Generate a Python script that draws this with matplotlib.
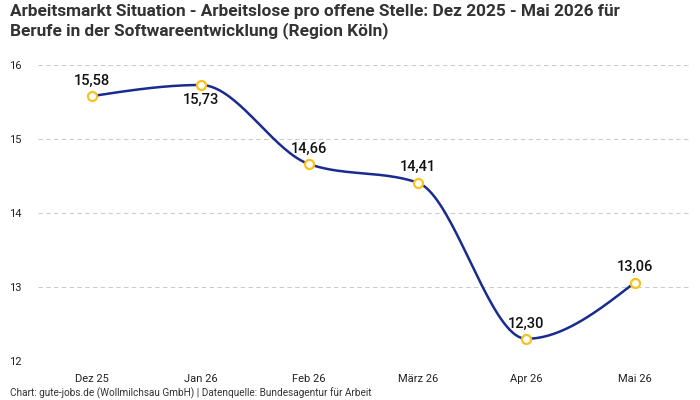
import numpy as np
import matplotlib
matplotlib.use("Agg")
import matplotlib.pyplot as plt

# Daten
monate = ["Dez 25", "Jan 26", "Feb 26", "März 26", "Apr 26", "Mai 26"]
werte = [15.58, 15.73, 14.66, 14.41, 12.30, 13.06]
label_unten = [False, True, False, False, False, False]

titel = ("Arbeitsmarkt Situation - Arbeitslose pro offene Stelle: Dez 2025 - Mai 2026 für\n"
         "Berufe in der Softwareentwicklung (Region Köln)")
quelle = "Chart: gute-jobs.de (Wollmilchsau GmbH) | Datenquelle: Bundesagentur für Arbeit"


def monotone_kurve(x, y, n=40):
    # monotone kubische Kurve (wie d3 curveMonotoneX)
    x = np.asarray(x, float)
    y = np.asarray(y, float)
    h = np.diff(x)
    s = np.diff(y) / h
    m = np.zeros_like(y)
    for i in range(1, len(y) - 1):
        if s[i - 1] * s[i] <= 0:
            m[i] = 0
        else:
            p = (s[i - 1] * h[i] + s[i] * h[i - 1]) / (h[i - 1] + h[i])
            m[i] = np.sign(s[i - 1]) * min(abs(s[i - 1]), abs(s[i]), 0.5 * abs(p)) * 2
    m[0] = (3 * s[0] - m[1]) / 2
    m[-1] = (3 * s[-1] - m[-2]) / 2
    xs, ys = [], []
    for i in range(len(x) - 1):
        t = np.linspace(0, 1, n)
        h00 = 2 * t**3 - 3 * t**2 + 1
        h10 = t**3 - 2 * t**2 + t
        h01 = -2 * t**3 + 3 * t**2
        h11 = t**3 - t**2
        xs.append(x[i] + t * h[i])
        ys.append(h00 * y[i] + h10 * h[i] * m[i] + h01 * y[i + 1] + h11 * h[i] * m[i + 1])
    return np.concatenate(xs), np.concatenate(ys)


plt.rcParams["font.family"] = ["Roboto", "DejaVu Sans"]

fig = plt.figure(figsize=(7, 4), dpi=100)
ax = fig.add_axes([38 / 700, 39 / 400, 651 / 700, 296 / 400])

pos = np.arange(len(monate))
kx, ky = monotone_kurve(pos, werte)
ax.plot(kx, ky, color="#1a2b8f", lw=1.8, zorder=3)
ax.plot(pos, werte, "o", ms=6.5, mfc="white", mec="#f7c21b", mew=1.6, zorder=4)

for x, y, unten in zip(pos, werte, label_unten):
    txt = f"{y:.2f}".replace(".", ",")
    off = -10.5 if unten else 11
    ax.annotate(txt, (x, y), xytext=(0, off), textcoords="offset points",
                ha="center", va="center", fontsize=10.5, fontweight="medium",
                color="#111111")

ax.set_xlim(-0.5, len(monate) - 0.5)
ax.set_ylim(12, 16)
ax.set_yticks([12, 13, 14, 15, 16])
ax.set_xticks(pos)
ax.set_xticklabels(monate)
ax.tick_params(axis="both", length=0, labelsize=8, colors="#222222")
ax.tick_params(axis="y", pad=12)
ax.tick_params(axis="x", pad=9)
ax.grid(axis="y", color="#cccccc", ls=(0, (4, 3)), lw=0.8)
for sp in ax.spines.values():
    sp.set_visible(False)

fig.text(10 / 700, 1 - 4 / 400, titel, ha="left", va="top", fontsize=12.4,
         fontweight="bold", color="#333333", linespacing=1.2)
fig.text(10 / 700, 7 / 400, quelle, ha="left", va="center", fontsize=7.2, color="#333333")

fig.savefig("out.png", dpi=100)
